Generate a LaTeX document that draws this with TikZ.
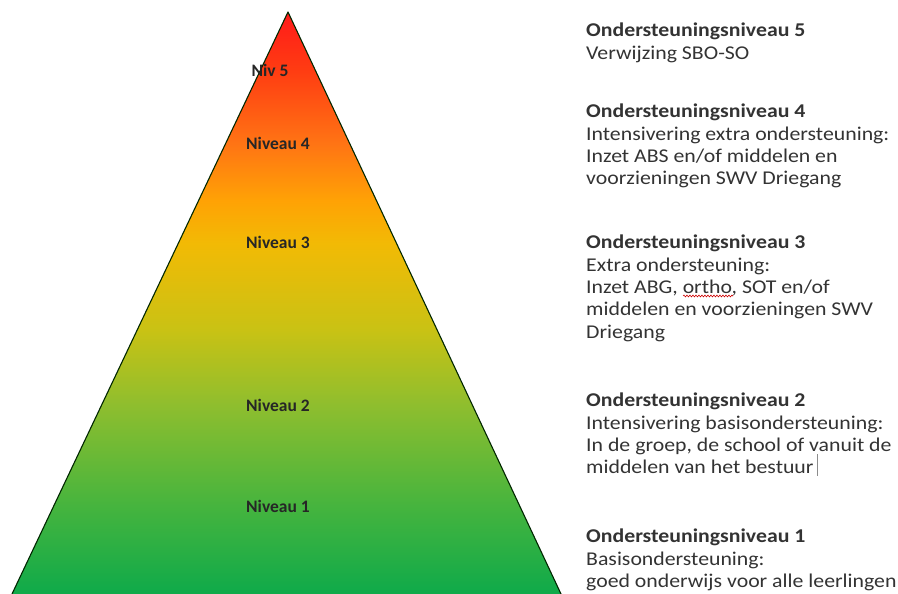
\documentclass[tikz,border=0pt]{standalone}
\usepackage{fontspec}
\setmainfont{Carlito}
\newfontfamily\infofont[FakeStretch=1.117]{Carlito}
\usetikzlibrary{positioning,decorations.pathmorphing}

\definecolor{lvred}{HTML}{FF1A1A}
\definecolor{lvredor}{HTML}{FF3C12}
\definecolor{lvorange}{HTML}{FF7414}
\definecolor{lvamber}{HTML}{FFA205}
\definecolor{lvyellow}{HTML}{F2BA05}
\definecolor{lvolive}{HTML}{C9C214}
\definecolor{lvlime}{HTML}{8FBE2E}
\definecolor{lvgrass}{HTML}{45B43E}
\definecolor{lvgreen}{HTML}{0FAA4A}

% bottom (25bp) = base, top (75bp) = apex
\pgfdeclareverticalshading{pyramid}{100bp}{color(0bp)=(lvgreen); color(25bp)=(lvgreen);
  color(32.5bp)=(lvgrass); color(41.3bp)=(lvlime); color(47.7bp)=(lvolive);
  color(55.1bp)=(lvyellow); color(58.8bp)=(lvamber); color(63.7bp)=(lvorange);
  color(70bp)=(lvredor); color(75bp)=(lvred); color(100bp)=(lvred)}

\begin{document}
\begin{tikzpicture}[x=1pt, y=1pt,
  lvl/.style={font=\fontsize{17.5}{20}\selectfont\bfseries, text=black!85, inner sep=0pt},
  info/.style={anchor=north west, align=left, inner sep=0pt, text=black!80,
               font=\infofont\fontsize{19.5}{22.3}\selectfont}]
 \useasboundingbox (0,0) rectangle (898,594);

 % pyramid
 \coordinate (top) at (288,582);
 \coordinate (bl) at (12,0);
 \coordinate (br) at (561,0);
 \shade[shading=pyramid] (top) -- (br) -- (bl) -- cycle;
 \draw[line width=1.1pt, black!75!green!60!black, line join=round] (bl) -- (top) -- (br);

 % levels in the pyramid
 \node[lvl] (niv5) at (270,524) {Niv 5};
 \node[lvl] (niv4) at (278,451) {Niveau 4};
 \node[lvl] (niv3) at (278,352) {Niveau 3};
 \node[lvl] (niv2) at (278,189) {Niveau 2};
 \node[lvl] (niv1) at (278,88) {Niveau 1};

 % descriptions
 \node[info] (ond5) at (586,571) {\textbf{Ondersteuningsniveau 5}\\Verwijzing SBO-SO};
 \node[info] (ond4) at (586,490) {\textbf{Ondersteuningsniveau 4}\\Intensivering extra ondersteuning:\\
   Inzet ABS en/of middelen en\\voorzieningen SWV Driegang};
 \node[info] (ond3) at (586,359) {\textbf{Ondersteuningsniveau 3}\\Extra ondersteuning:\\
   Inzet ABG, ortho, SOT en/of\\middelen en voorzieningen SWV\\Driegang};
 \node[info] (ond2) at (586,201) {\textbf{Ondersteuningsniveau 2}\\Intensivering basisondersteuning:\\
   In de groep, de school of vanuit de\\middelen van het bestuur};
 \node[info] (ond1) at (586,65) {\textbf{Ondersteuningsniveau 1}\\Basisondersteuning:\\
   goed onderwijs voor alle leerlingen};

 % spelling mark and cursor
 \draw[red!80!black, line width=0.6pt, decorate,
       decoration={snake, amplitude=0.9pt, segment length=3pt}] (683,298) -- (733,298);
 \draw[black!45, line width=0.6pt] (817,118) -- (817,140);
\end{tikzpicture}
\end{document}
